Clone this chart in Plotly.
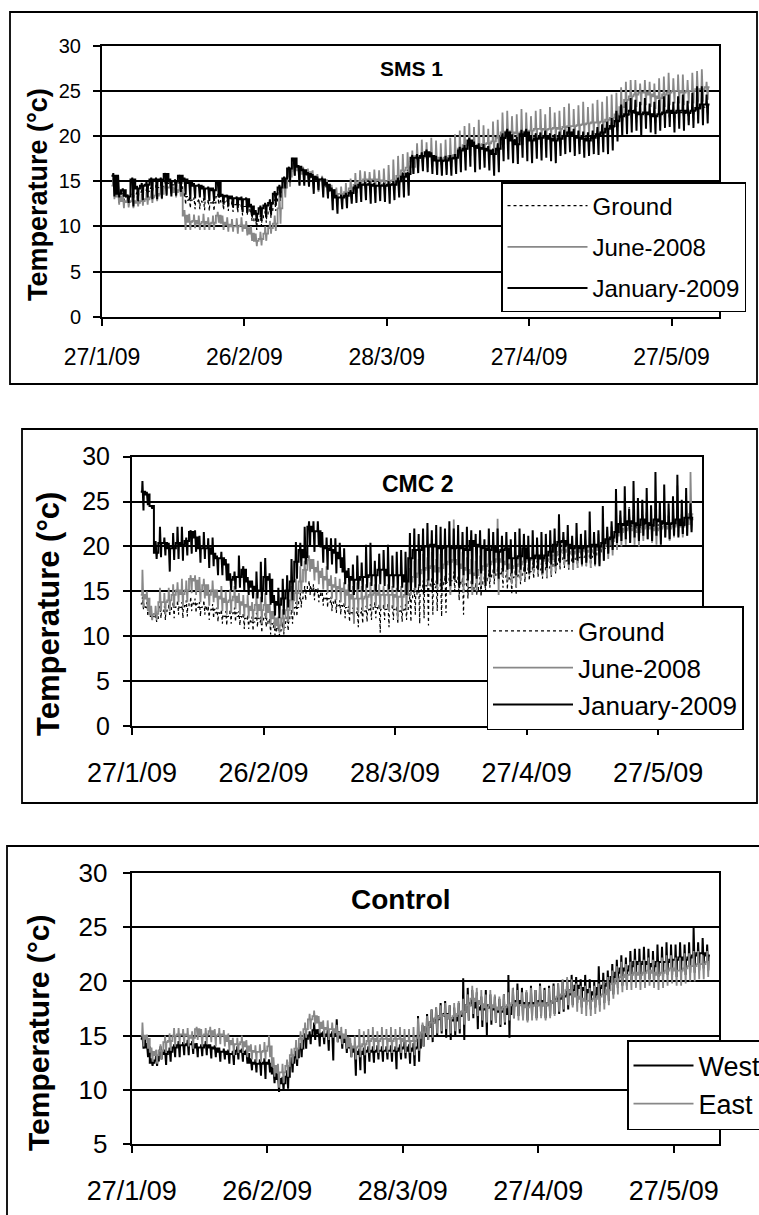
import pandas as pd
import plotly.graph_objects as go

START = "2009-01-29"
X_START = "2009-01-27"
X_END = "2009-06-06"
TICK_DATES = ["2009-01-27", "2009-02-26", "2009-03-28", "2009-04-27", "2009-05-27"]
TICK_TEXT = ["27/1/09", "26/2/09", "28/3/09", "27/4/09", "27/5/09"]
Y_TITLE = "Temperature (°c)"

# ---------------- SMS 1 ----------------
sms_jan_lvl = [15.6,13.6,14.0,13.3,15.2,14.2,14.5,14.6,15.2,15.2,
 15.2,15.8,15.0,15.0,15.6,15.2,14.8,14.5,14.5,14.2,
 14.2,14.0,14.8,13.4,13.3,13.1,13.1,13.0,13.0,12.2,
 11.4,12.0,12.3,12.6,13.6,14.3,15.3,16.4,17.5,16.6,
 16.2,15.8,15.5,15.2,15.2,14.6,14.0,13.2,13.2,13.4,
 13.7,14.3,14.6,14.6,14.6,14.5,14.5,14.5,14.6,14.6,
 15.0,15.5,15.8,17.6,17.6,17.8,18.2,17.8,17.3,17.3,
 17.3,17.5,17.6,18.4,18.6,19.5,18.9,18.7,18.6,18.4,
 18.0,18.6,19.8,20.4,19.5,19.1,20.2,20.4,19.5,19.7,
 19.8,20.0,19.7,19.5,19.7,20.0,20.4,20.0,19.8,19.7,
 19.5,19.8,20.2,20.4,20.8,21.1,21.7,22.2,22.4,22.8,
 22.6,22.4,22.6,22.4,22.2,22.4,22.6,22.8,22.6,22.8,
 22.8,22.6,22.8,23.1,23.5,23.5]
sms_jan_hi = [15.9,15.7,14.2,13.5,15.4,14.5,14.8,15.0,15.4,15.4,
 15.4,15.9,15.3,15.2,15.7,15.4,15.0,14.8,14.7,14.5,
 14.4,14.3,15.0,13.6,13.5,13.4,13.3,13.3,13.2,12.5,
 11.8,12.3,12.6,13.0,13.9,14.6,15.5,16.6,17.6,16.8,
 16.4,16.0,15.8,15.5,15.4,14.9,14.3,13.5,13.5,13.7,
 14.0,14.6,14.9,14.9,15.0,14.8,14.9,14.8,15.0,15.0,
 15.4,15.9,16.0,17.9,18.0,18.2,18.5,18.2,17.8,17.7,
 17.8,17.9,18.0,18.8,19.0,19.8,19.4,19.2,19.1,18.9,
 18.6,19.2,20.3,20.8,20.2,19.9,20.7,20.8,20.1,20.3,
 20.4,20.6,20.3,20.2,20.5,20.7,21.0,20.8,20.6,20.5,
 20.4,20.6,21.0,21.3,21.6,22.0,22.8,23.5,23.8,24.2,
 24.0,23.8,24.2,23.6,23.8,24.0,24.4,24.6,23.8,24.4,
 24.6,23.9,24.8,25.5,25.5,24.6]
sms_jan_lo = [13.3,13.2,13.3,12.6,12.2,12.8,12.9,13.2,13.0,13.0,
 13.1,13.4,13.3,13.4,13.8,13.5,13.0,13.1,13.2,12.9,
 12.8,12.8,13.2,12.4,12.2,12.1,12.0,11.6,11.5,11.1,
 10.5,10.6,11.0,11.3,12.4,13.2,14.2,14.9,15.6,14.5,
 14.5,14.4,13.6,14.0,13.2,13.1,11.8,11.4,11.9,12.0,
 12.5,12.6,12.7,12.9,12.5,12.6,12.8,12.7,12.5,12.9,
 13.2,13.2,13.4,15.8,15.9,16.1,16.0,15.8,15.7,15.6,
 15.7,15.6,15.8,16.0,16.2,16.6,16.0,16.3,16.5,16.2,
 15.6,16.0,17.2,17.4,17.0,16.9,17.6,17.2,17.0,17.5,
 17.3,17.6,17.2,17.0,17.8,18.0,18.2,17.8,18.0,17.6,
 17.8,18.0,17.9,18.2,18.0,18.4,19.4,19.9,20.2,20.4,
 20.6,20.0,20.8,20.4,20.2,20.6,20.9,21.0,20.4,20.8,
 20.6,21.2,20.9,21.4,21.2,21.4]

sms_jun_lvl = [14.5,13.3,12.8,12.7,12.8,12.6,12.8,13.0,13.2,13.4,
 13.6,14.3,14.3,13.8,14.0,11.2,10.5,10.6,10.3,10.5,
 10.3,10.4,11.2,10.4,10.2,10.0,10.0,10.1,9.8,9.2,
 8.4,8.6,9.2,9.8,10.3,12.0,14.3,15.5,16.6,16.2,
 15.8,16.0,15.5,15.2,15.0,14.5,14.0,13.6,13.6,13.8,
 14.2,14.6,15.0,15.2,15.2,15.2,15.1,15.0,15.0,15.1,
 15.6,16.2,16.5,16.6,17.8,17.6,17.7,17.8,17.6,17.5,
 17.6,17.8,17.9,18.6,19.0,19.0,18.9,19.0,19.1,19.2,
 19.4,19.8,20.4,20.5,20.4,20.3,20.4,20.5,20.6,20.8,
 20.8,20.7,20.8,20.9,20.8,21.0,21.1,21.1,21.2,21.3,
 21.4,21.5,21.5,21.6,21.8,22.0,22.4,23.2,24.0,24.4,
 24.6,24.8,24.8,24.6,24.4,24.2,24.6,24.8,25.0,25.0,
 24.8,25.0,25.0,25.2,25.2,25.4]
sms_jun_hi = [15.7,14.0,13.6,13.5,13.6,13.4,13.6,13.8,14.0,14.2,
 14.4,14.8,14.8,14.3,14.6,11.8,11.4,11.3,11.2,11.4,
 11.0,11.2,11.6,11.2,11.0,10.8,10.9,11.0,10.6,10.0,
 9.2,9.4,10.0,10.6,11.2,13.8,14.9,16.2,17.0,16.8,
 16.6,16.4,16.2,15.8,15.6,15.2,14.6,14.3,14.4,14.8,
 15.3,15.9,16.2,16.1,16.0,16.3,16.2,16.4,16.8,17.4,
 17.8,18.0,18.2,18.4,19.2,19.6,19.3,19.8,19.5,19.2,
 19.6,19.8,20.2,20.6,21.1,21.4,21.0,21.8,21.2,20.8,
 21.6,21.8,22.6,22.8,22.2,22.4,23.0,22.6,22.2,22.8,
 23.0,22.4,23.2,22.6,22.8,23.2,23.6,23.0,23.4,23.8,
 23.2,23.6,24.0,23.8,24.4,24.6,24.8,25.4,26.0,26.2,
 26.2,25.8,26.2,26.0,25.8,26.4,26.6,27.0,26.4,26.8,
 26.8,26.2,27.0,27.2,27.4,26.0]
sms_jun_lo = [13.0,12.4,12.0,12.1,12.0,12.2,12.3,12.4,12.6,12.8,
 13.0,13.6,13.6,13.2,13.3,9.6,9.6,9.8,9.6,9.6,
 9.6,9.6,10.4,9.6,9.4,9.4,9.2,9.4,9.0,8.4,
 7.8,7.9,8.4,9.2,9.5,10.3,13.2,14.4,15.6,14.6,
 14.8,14.6,14.2,13.8,13.6,13.2,12.8,12.6,12.9,13.1,
 13.4,13.7,14.2,14.4,14.3,14.4,14.2,14.1,14.2,14.3,
 14.6,15.0,15.5,15.8,16.6,16.4,16.5,16.6,16.4,16.2,
 16.4,16.6,16.8,17.4,17.8,17.8,17.6,17.8,17.9,17.9,
 18.1,18.4,19.0,19.1,19.0,18.9,19.0,19.2,19.3,19.5,
 19.5,19.4,19.5,19.6,19.5,19.7,19.8,19.8,19.9,20.0,
 20.1,20.2,20.2,20.3,20.5,20.7,21.0,21.8,22.6,23.0,
 23.2,23.4,23.4,23.2,23.0,22.8,23.2,23.4,23.6,23.6,
 23.4,23.6,23.6,23.8,23.8,24.0]

sms_gnd_lvl = [15.0,13.5,13.4,13.2,13.5,13.6,13.8,13.9,14.2,14.3,
 14.4,14.8,14.6,14.6,14.8,13.3,12.9,12.8,12.8,12.7,
 12.6,12.6,13.3,12.7,12.6,12.5,12.4,12.2,12.2,11.5,
 10.5,10.9,11.3,11.8,12.6,13.8,14.8,15.8,17.0,16.3,
 16.0,15.7,15.4,15.1,15.0,14.4,13.9,13.3,13.3,13.5,
 13.8,14.3,14.6,14.7,14.7,14.6,14.6,14.5,14.6,14.7,
 15.1,15.6,15.9,17.2,17.5,17.6,17.9,17.7,17.3,17.2,
 17.3,17.5,17.6,18.3,18.6,19.2,18.8,18.7,18.6,18.4,
 18.2,18.7,19.6,20.1,19.6,19.3,20.0,20.2,19.6,19.8,
 19.9,20.0,19.8,19.7,19.8,20.1,20.4,20.1,19.9,19.8,
 19.7,19.9,20.2,20.4,20.7,21.0,21.6,22.0,22.3,22.6,
 22.5,22.4,22.5,22.4,22.3,22.4,22.5,22.6,22.5,22.6,
 22.6,22.5,22.7,22.9,23.2,23.3]
sms_gnd_hi = [15.4,14.0,13.8,13.5,13.9,14.0,14.2,14.3,14.6,14.7,
 14.8,15.1,15.0,14.9,15.1,13.8,13.3,13.2,13.1,13.1,
 13.0,12.9,13.6,13.0,12.9,12.8,12.8,12.5,12.5,11.9,
 10.9,11.3,11.7,12.2,13.0,14.2,15.2,16.2,17.3,16.7,
 16.4,16.1,15.8,15.5,15.4,14.8,14.3,13.7,13.7,13.9,
 14.2,14.7,15.0,15.1,15.1,15.0,15.0,14.9,15.0,15.2,
 15.5,16.0,16.3,17.6,17.9,18.0,18.3,18.1,17.7,17.6,
 17.7,17.9,18.0,18.8,19.1,19.7,19.3,19.2,19.1,18.9,
 18.7,19.2,20.1,20.6,20.1,19.8,20.5,20.7,20.1,20.3,
 20.4,20.5,20.3,20.2,20.3,20.6,20.9,20.6,20.4,20.3,
 20.2,20.4,20.7,20.9,21.2,21.5,22.1,22.5,22.8,23.1,
 23.0,22.9,23.0,22.9,22.8,22.9,23.0,23.1,23.0,23.1,
 23.1,23.0,23.2,23.4,23.7,23.8]
sms_gnd_lo = [14.0,12.6,12.5,12.3,12.5,12.6,12.8,12.9,13.2,13.3,
 13.4,13.8,13.6,13.6,13.8,12.4,12.0,11.9,11.9,11.8,
 11.7,11.7,12.4,11.8,11.7,11.6,11.5,11.2,11.2,10.6,
 9.6,10.0,10.4,10.9,11.7,12.8,13.8,14.8,16.0,15.3,
 15.0,14.7,14.4,14.1,14.0,13.4,12.9,12.3,12.3,12.5,
 12.8,13.3,13.6,13.7,13.7,13.6,13.6,13.5,13.6,13.7,
 14.1,14.6,14.9,16.2,16.5,16.6,16.9,16.7,16.3,16.2,
 16.3,16.5,16.6,17.3,17.6,18.2,17.8,17.7,17.6,17.4,
 17.2,17.7,18.6,19.1,18.6,18.3,19.0,19.2,18.6,18.8,
 18.9,19.0,18.8,18.7,18.8,19.1,19.4,19.1,18.9,18.8,
 18.7,18.9,19.2,19.4,19.7,20.0,20.6,21.0,21.3,21.6,
 21.5,21.4,21.5,21.4,21.3,21.4,21.5,21.6,21.5,21.6,
 21.6,21.5,21.7,21.9,22.2,22.3]

# ---------------- CMC 2 ----------------
cmc_jan_lvl = [26.1,25.8,24.5,19.3,20.4,20.4,19.8,19.8,20.4,20.2,
 20.6,21.6,21.0,19.8,19.8,19.8,19.2,18.7,18.7,18.0,
 16.3,16.6,16.6,17.4,16.1,15.5,15.1,15.1,16.6,16.3,
 13.8,13.5,14.2,15.1,16.1,18.3,19.6,18.8,22.2,21.7,
 21.7,20.0,19.8,19.6,19.3,18.7,17.2,16.6,16.3,16.3,
 16.6,16.6,16.8,16.8,17.4,17.4,16.8,16.8,16.8,16.8,
 16.1,18.7,19.6,19.6,20.0,20.0,20.2,20.0,19.8,20.0,
 20.0,19.8,20.0,19.8,19.6,20.6,20.2,20.0,19.8,19.6,
 20.0,19.4,19.6,19.8,18.7,18.7,18.9,19.8,18.7,18.7,
 19.0,18.7,19.0,19.4,20.2,20.5,20.6,20.2,19.8,20.0,
 19.8,20.0,20.0,20.2,20.0,20.4,20.8,21.0,21.6,22.5,
 22.4,22.8,22.6,22.4,23.0,22.6,22.4,23.0,22.8,22.6,
 22.5,22.6,23.0,22.4,23.2,23.2]
cmc_jan_hi = [27.3,26.1,24.6,20.6,22.2,21.0,20.4,21.5,22.2,22.2,
 21.0,21.8,21.8,21.2,21.6,20.9,21.0,19.0,19.4,18.6,
 17.0,17.2,19.0,17.8,16.6,16.2,17.2,18.3,18.7,17.0,
 14.6,15.4,16.4,16.8,18.6,20.5,20.4,22.2,22.8,22.8,
 22.8,21.6,21.0,20.9,20.9,20.4,19.8,17.6,18.0,19.0,
 18.2,20.2,20.4,18.4,19.2,19.6,20.2,19.0,19.4,19.6,
 19.4,21.5,22.0,21.4,22.0,22.6,21.8,22.4,22.2,22.0,
 22.8,22.0,22.4,21.6,22.2,21.8,21.4,21.8,20.8,22.0,
 21.6,22.0,21.2,21.6,20.8,21.6,22.0,21.4,21.2,21.8,
 21.0,21.6,21.4,21.8,22.0,23.6,21.6,22.4,21.2,22.6,
 21.4,21.8,23.9,21.6,21.8,24.5,22.2,22.8,26.4,24.0,
 26.7,24.2,27.3,25.4,25.2,26.5,24.6,28.3,25.0,26.9,
 24.8,25.6,28.0,25.2,26.5,24.8]
cmc_jan_lo = [24.0,24.6,24.2,18.6,18.8,19.0,17.2,18.5,18.6,18.4,
 19.0,19.2,19.4,18.2,18.6,17.6,17.8,16.8,16.8,16.2,
 15.1,15.2,15.4,15.0,14.6,14.2,14.2,13.8,14.6,13.5,
 12.3,12.0,12.4,13.2,14.0,16.4,17.8,18.0,20.0,19.4,
 20.0,18.2,17.4,18.0,17.0,17.6,15.8,15.0,14.6,15.2,
 15.0,15.4,15.6,15.0,15.8,15.6,15.2,15.4,15.0,15.4,
 14.6,15.0,15.4,15.6,14.8,16.2,15.0,15.8,15.2,16.0,
 15.6,16.4,15.4,16.8,16.2,15.8,16.4,17.0,15.6,16.6,
 17.0,16.4,17.2,17.4,17.0,16.8,17.4,17.2,17.0,17.6,
 17.4,17.0,17.6,18.0,17.8,18.2,18.6,18.0,18.2,18.4,
 18.0,18.2,18.6,18.0,17.8,18.4,19.2,19.6,20.4,20.6,
 20.8,20.4,21.0,20.6,21.2,20.8,20.6,21.2,20.2,21.0,
 20.8,21.2,21.0,21.4,21.2,21.6]

cmc_jun_lvl = [14.6,14.2,12.4,12.5,13.8,13.8,14.0,14.6,15.1,14.7,
 15.1,16.4,16.2,15.1,15.7,14.6,15.1,14.4,14.2,13.8,
 14.0,14.4,13.8,13.5,13.3,12.9,13.5,12.9,13.5,12.7,
 12.0,11.2,12.0,12.9,14.0,14.8,16.1,17.4,18.5,17.6,
 17.2,16.6,16.3,15.7,15.5,15.3,15.1,14.6,14.2,14.2,
 14.2,14.4,14.6,14.8,14.6,14.6,14.6,14.6,14.4,14.4,
 14.6,16.1,16.6,17.0,17.4,17.6,17.8,17.2,17.6,18.0,
 18.3,18.5,18.0,17.6,17.4,17.0,16.8,17.4,17.8,18.0,
 18.3,18.6,18.3,18.0,17.6,17.8,18.0,18.3,18.5,18.7,
 18.8,18.6,18.4,18.6,19.0,19.4,19.6,19.4,19.2,19.4,
 19.6,19.5,19.4,19.6,19.8,20.0,20.2,20.6,21.2,21.6,
 21.8,22.0,21.8,21.6,22.0,22.2,22.0,21.8,22.0,22.2,
 22.0,22.2,22.4,22.2,22.5,23.6]
cmc_jun_hi = [17.4,15.0,13.4,13.4,15.4,14.8,15.4,15.8,16.0,16.4,
 16.2,16.8,16.8,16.6,16.4,15.8,16.2,15.2,15.6,15.0,
 15.2,15.6,14.8,14.6,14.6,13.8,14.8,14.4,14.8,13.6,
 12.8,12.2,13.0,14.4,15.6,16.4,17.8,18.4,19.0,18.6,
 18.4,17.6,17.8,16.8,16.6,16.4,16.0,15.8,15.6,16.0,
 15.6,15.8,16.0,15.8,15.8,15.6,15.8,15.6,15.4,15.6,
 15.8,17.6,18.4,18.6,19.2,18.8,19.4,18.6,19.2,19.6,
 20.2,23.0,19.6,19.4,18.8,18.6,18.4,19.0,19.6,19.8,
 20.4,23.1,20.0,19.8,19.2,19.4,19.6,20.0,20.2,20.4,
 20.2,20.0,20.4,20.2,20.6,20.8,21.0,21.2,20.8,21.0,
 21.2,20.8,21.0,21.2,21.4,21.6,21.8,22.2,22.8,23.2,
 23.4,23.6,23.2,23.0,23.6,23.8,23.4,23.2,23.6,23.8,
 23.4,23.8,26.8,23.6,24.0,28.3]
cmc_jun_lo = [13.2,12.8,11.8,11.8,12.8,12.4,12.8,13.2,13.8,13.2,
 13.8,14.8,14.6,13.8,14.2,13.4,13.8,13.0,12.8,12.4,
 12.6,13.0,12.4,12.2,12.0,11.6,12.0,11.4,12.0,11.2,
 10.8,10.4,10.6,11.6,12.6,13.4,14.8,16.0,17.2,16.2,
 15.8,15.2,14.8,14.2,14.0,13.8,13.4,12.6,11.4,12.6,
 12.8,13.0,13.2,13.4,13.0,13.2,12.8,13.2,11.8,12.8,
 13.2,14.6,15.0,15.4,15.8,15.6,16.0,15.2,15.6,16.0,
 14.6,16.6,16.0,14.8,15.6,14.6,15.0,15.6,16.0,16.2,
 16.4,14.6,16.6,16.2,15.8,15.4,16.2,16.6,16.8,17.0,
 17.0,16.8,16.6,16.8,17.2,17.8,18.0,17.6,17.4,17.6,
 17.8,17.8,17.6,17.8,18.0,18.4,18.6,19.0,19.6,20.0,
 20.2,20.4,20.2,20.0,20.6,20.8,20.4,20.2,20.6,21.0,
 20.6,21.0,21.2,21.0,21.2,22.0]

cmc_gnd_lvl = [13.6,13.2,12.2,12.0,12.8,12.8,13.0,13.2,13.4,13.2,
 13.4,13.8,13.6,13.2,13.4,12.8,13.0,12.6,12.4,12.2,
 12.4,12.6,12.2,12.0,11.8,11.6,12.0,11.6,12.0,11.4,
 11.0,10.6,11.0,11.6,12.4,13.2,14.2,15.0,15.6,15.2,
 14.8,14.4,14.2,13.8,13.6,13.4,13.2,12.8,12.6,12.6,
 12.6,12.8,13.0,13.2,13.0,13.0,13.0,13.0,12.8,12.8,
 13.0,14.0,14.6,15.0,15.4,15.6,15.8,15.4,15.6,16.0,
 16.2,16.4,16.0,15.8,15.6,15.4,15.2,15.8,16.2,16.6,
 16.8,17.0,16.8,16.6,16.4,16.6,16.8,17.0,17.2,17.4,
 17.6,17.4,17.4,17.6,18.0,18.4,18.6,18.4,18.4,18.6,
 18.8,18.8,18.8,19.0,19.4,19.8,20.2,20.8,21.4,21.8,
 22.0,22.4,22.2,22.0,22.4,22.6,22.4,22.2,22.4,22.6,
 22.4,22.6,22.8,22.6,22.8,23.0]
cmc_gnd_hi = [14.4,13.8,12.8,12.6,13.4,13.4,13.6,13.8,14.0,13.8,
 14.0,14.4,14.2,13.8,14.0,13.4,13.6,13.2,13.0,12.8,
 13.0,13.2,12.8,12.6,12.4,12.2,12.6,12.2,12.6,12.0,
 11.6,11.2,11.6,12.2,13.0,13.8,14.8,15.6,16.2,15.8,
 15.4,15.0,14.8,14.4,14.2,14.0,13.8,13.4,13.2,13.2,
 13.2,13.4,13.6,13.8,13.6,13.6,13.6,13.6,13.4,13.4,
 13.6,14.8,15.4,15.8,16.2,16.4,16.6,16.2,16.4,16.8,
 17.0,17.2,16.8,16.6,16.4,16.2,16.0,16.6,17.0,17.4,
 17.6,17.8,17.6,17.4,17.2,17.4,17.6,17.8,18.0,18.2,
 18.4,18.2,18.2,18.4,18.8,19.2,19.4,19.2,19.2,19.4,
 19.6,19.6,19.6,19.8,20.2,20.6,21.4,22.4,23.2,23.6,
 24.0,24.4,23.8,24.2,24.6,24.8,24.2,24.4,25.0,24.6,
 24.2,25.2,24.8,25.0,24.6,24.8]
cmc_gnd_lo = [13.0,12.2,11.8,11.6,12.0,11.8,12.2,12.0,12.4,12.0,
 12.2,12.8,12.6,12.2,12.4,11.8,12.0,11.6,11.4,11.2,
 11.4,11.6,11.2,10.8,10.8,10.6,11.0,10.4,11.0,10.2,
 10.1,10.1,10.2,10.6,11.4,12.2,13.2,14.0,14.6,14.0,
 13.8,13.4,13.2,12.8,12.6,12.4,12.0,11.6,11.4,11.0,
 11.4,11.6,11.8,12.0,10.4,11.8,11.0,11.8,11.4,11.6,
 11.8,11.6,12.4,11.4,12.0,11.2,12.4,12.8,12.2,12.6,
 14.6,15.0,14.0,12.4,14.2,15.0,14.6,14.4,15.0,15.4,
 15.8,16.0,15.4,15.2,14.8,14.6,15.8,16.0,16.2,16.4,
 16.6,16.4,16.4,16.6,17.0,17.4,17.6,17.4,17.4,17.6,
 17.8,17.8,17.6,17.8,18.2,18.8,19.2,19.6,20.2,20.6,
 20.8,21.2,21.0,20.8,21.2,21.4,21.2,21.0,21.2,21.4,
 21.2,21.4,21.6,21.4,21.6,21.8]

# ---------------- Control ----------------
ctl_west_lvl = [14.7,13.9,12.5,12.7,13.6,13.3,13.5,13.9,14.1,14.1,
 14.2,14.2,13.9,13.9,14.1,13.9,13.8,13.5,13.5,13.3,
 13.3,13.6,13.5,13.3,12.5,12.4,12.4,12.5,12.4,11.5,
 11.0,10.6,11.2,12.5,13.0,13.8,14.7,15.0,15.5,15.2,
 15.0,15.1,15.0,15.3,14.8,14.4,13.9,13.5,13.3,13.5,
 13.6,13.5,13.6,13.6,13.6,13.6,13.6,13.8,13.9,13.6,
 13.8,13.9,15.0,15.8,16.2,16.5,16.8,17.0,16.6,16.4,
 16.8,17.2,17.8,18.0,17.6,17.4,17.8,17.6,17.4,17.2,
 17.6,17.0,17.8,18.2,18.0,17.8,18.0,17.8,18.2,17.8,
 18.0,18.2,18.4,18.6,18.8,19.2,19.6,19.4,19.2,19.0,
 18.8,19.4,19.6,19.8,20.4,20.8,21.2,21.0,21.4,21.8,
 21.6,21.8,21.6,21.4,21.8,21.8,21.8,22.0,22.0,22.2,
 22.0,22.2,22.4,22.6,22.6,22.4]
ctl_west_hi = [15.0,14.3,12.9,13.2,14.0,13.7,13.9,14.2,14.5,14.4,
 14.6,14.5,14.3,14.2,14.5,14.2,14.1,13.9,13.8,13.7,
 13.6,14.0,13.8,13.7,12.9,12.8,12.8,12.9,12.8,12.0,
 11.5,11.2,11.8,13.0,13.6,14.3,15.2,15.4,16.2,15.6,
 15.4,15.5,15.4,16.5,15.2,14.8,14.3,14.0,13.8,13.9,
 14.0,14.0,14.1,14.0,14.0,14.1,14.0,14.2,14.4,14.2,
 14.3,16.8,16.0,17.0,17.4,17.6,18.0,18.2,17.8,17.6,
 18.0,20.3,19.4,19.2,19.0,18.6,19.2,18.8,18.6,18.4,
 18.8,20.6,19.4,19.8,19.4,19.0,19.6,19.2,19.8,19.4,
 19.6,19.8,19.8,20.0,20.2,20.6,20.4,20.2,20.6,20.2,
 20.0,21.4,20.8,21.0,21.6,22.0,22.4,22.2,22.8,23.0,
 23.0,23.2,23.0,22.8,23.4,23.2,23.6,23.4,23.4,23.6,
 23.4,23.6,25.0,23.6,24.0,23.4]
ctl_west_lo = [13.8,13.0,12.2,12.2,12.8,12.3,12.6,13.0,13.0,13.2,
 13.2,13.3,13.0,13.1,13.2,12.9,13.0,12.6,12.8,12.4,
 12.3,12.8,12.6,12.4,11.8,11.6,11.3,11.0,11.6,10.6,
 9.8,10.0,10.1,11.6,12.2,13.0,13.8,14.2,14.6,14.0,
 14.2,13.6,12.7,14.4,13.8,13.4,13.0,11.3,11.8,11.5,
 12.6,12.5,12.8,12.6,12.8,12.6,11.9,12.8,12.9,12.4,
 12.2,12.6,14.0,14.6,14.4,15.0,15.2,14.8,14.6,15.0,
 15.2,14.6,16.4,16.6,15.6,15.8,15.0,16.0,16.2,15.8,
 16.0,14.8,16.6,16.8,16.6,16.4,16.8,16.6,16.8,16.6,
 16.8,17.0,17.0,17.2,17.4,17.8,18.0,17.6,17.8,17.4,
 17.6,17.8,18.0,18.2,18.8,19.4,19.6,19.6,20.0,20.2,
 20.2,20.4,20.2,20.0,20.4,20.4,20.6,20.6,20.4,20.8,
 20.6,20.8,20.8,21.0,21.2,21.0]

ctl_east_lvl = [15.0,14.7,13.5,13.2,13.6,14.4,14.5,15.0,15.1,15.1,
 15.0,14.8,15.6,15.0,15.1,15.4,15.0,15.1,15.0,14.5,
 14.2,14.2,14.4,14.0,13.6,13.5,13.5,13.6,14.0,12.2,
 11.6,11.6,12.2,13.2,13.8,14.7,15.6,16.5,16.8,16.2,
 15.7,15.6,15.6,15.3,15.1,14.8,14.0,13.9,14.0,14.2,
 14.5,14.7,14.5,14.7,14.7,14.5,14.7,14.7,14.5,14.5,
 14.5,14.8,15.3,15.8,16.2,16.6,16.8,16.9,16.6,16.8,
 17.0,17.2,17.8,18.4,18.2,17.9,17.6,17.8,17.6,17.4,
 17.6,17.8,18.0,17.8,17.8,17.6,17.8,17.8,18.0,17.8,
 18.0,18.2,18.6,18.8,19.2,19.0,18.6,18.4,18.2,18.2,
 18.4,18.6,18.8,19.2,19.8,20.2,20.4,20.6,20.6,20.8,
 20.6,20.8,21.0,20.8,20.6,20.8,21.0,21.2,21.0,21.0,
 21.2,21.4,21.4,21.6,21.6,21.8]
ctl_east_hi = [16.2,15.1,13.9,13.7,14.2,15.0,15.2,15.7,15.7,15.6,
 15.7,15.4,15.8,15.6,15.7,15.8,15.6,15.7,15.5,15.2,
 14.8,14.8,15.0,14.6,14.2,14.1,14.2,14.4,15.0,13.0,
 12.4,12.4,12.8,13.8,14.6,15.4,16.2,17.0,17.3,16.8,
 16.4,16.4,16.2,16.0,15.8,15.6,14.8,15.0,15.6,15.4,
 15.6,15.8,15.4,15.8,15.6,15.8,15.6,15.8,15.6,15.6,
 15.8,16.6,16.2,16.8,17.4,17.6,17.8,18.0,17.8,18.0,
 18.2,18.4,18.8,19.6,19.4,19.2,18.8,19.2,18.8,18.6,
 18.8,19.0,19.4,19.2,19.0,19.2,19.4,19.2,19.6,19.2,
 19.4,19.6,19.8,20.2,20.4,20.2,19.8,19.6,19.6,19.4,
 19.6,19.8,20.0,20.4,21.0,21.4,21.8,21.6,21.8,22.0,
 21.8,22.0,22.2,22.0,21.8,22.2,22.4,22.4,22.2,22.2,
 22.6,22.6,22.8,22.8,22.4,22.8]
ctl_east_lo = [14.0,13.8,12.6,12.4,12.8,13.4,13.6,14.0,14.2,14.2,
 14.0,13.8,14.6,14.0,14.2,14.4,14.0,14.2,14.0,13.6,
 13.2,13.4,13.4,13.0,12.8,12.6,12.6,12.8,13.0,11.2,
 10.2,10.6,11.2,12.4,12.8,13.8,14.8,15.6,16.0,15.2,
 14.8,14.6,14.8,14.4,14.2,13.8,13.0,12.8,13.0,13.2,
 13.4,13.6,13.4,13.6,13.4,13.4,13.6,13.4,13.4,13.4,
 13.2,13.6,14.0,14.6,14.8,15.2,15.4,15.6,15.2,15.4,
 15.6,16.0,16.4,17.0,16.8,16.4,16.2,16.4,16.2,16.0,
 16.2,16.4,16.6,16.4,16.4,16.2,16.4,16.4,16.6,16.4,
 16.6,16.8,17.2,17.4,17.8,17.6,17.2,17.0,16.8,16.8,
 17.0,17.2,17.4,17.8,18.4,18.8,19.0,19.2,19.2,19.4,
 19.2,19.4,19.6,19.4,19.2,19.4,19.6,19.8,19.6,19.6,
 19.8,20.0,20.0,20.2,20.2,20.4]

BLACK = "#000000"
GREY = "#888888"
FONT = "Liberation Sans, Arial, sans-serif"
W, H = 759, 1215


def daily_path(lvl, hi, lo):
    """Each logged day: resting level, then the daily excursion to max and min."""
    assert len(lvl) == len(hi) == len(lo)
    base = pd.Timestamp(START)
    xs, ys = [], []
    for i, (l, h, w) in enumerate(zip(lvl, hi, lo)):
        d = base + pd.Timedelta(days=i)
        for frac, v in ((0.0, l), (0.30, l), (0.38, h), (0.62, w), (0.70, l), (0.999, l)):
            xs.append(d + pd.Timedelta(hours=24 * frac))
            ys.append(v)
    return xs, ys


fig = go.Figure()


def add_series(name, lvl, hi, lo, color, width, dash, xa, ya, legend, group):
    xs, ys = daily_path(lvl, hi, lo)
    fig.add_trace(go.Scatter(
        x=xs, y=ys, mode="lines", name=name,
        line=dict(color=color, width=width, dash=dash),
        xaxis=xa, yaxis=ya, legend=legend, legendgroup=group,
        hoverinfo="skip"))


add_series("Ground", sms_gnd_lvl, sms_gnd_hi, sms_gnd_lo, BLACK, 1.2, "dot", "x", "y", "legend", "a1")
add_series("June-2008", sms_jun_lvl, sms_jun_hi, sms_jun_lo, GREY, 1.8, "solid", "x", "y", "legend", "b1")
add_series("January-2009", sms_jan_lvl, sms_jan_hi, sms_jan_lo, BLACK, 2.0, "solid", "x", "y", "legend", "c1")

add_series("Ground", cmc_gnd_lvl, cmc_gnd_hi, cmc_gnd_lo, BLACK, 1.2, "dot", "x2", "y2", "legend2", "a2")
add_series("June-2008", cmc_jun_lvl, cmc_jun_hi, cmc_jun_lo, GREY, 1.8, "solid", "x2", "y2", "legend2", "b2")
add_series("January-2009", cmc_jan_lvl, cmc_jan_hi, cmc_jan_lo, BLACK, 2.0, "solid", "x2", "y2", "legend2", "c2")

add_series("West", ctl_west_lvl, ctl_west_hi, ctl_west_lo, BLACK, 2.0, "solid", "x3", "y3", "legend3", "a3")
add_series("East", ctl_east_lvl, ctl_east_hi, ctl_east_lo, GREY, 1.8, "solid", "x3", "y3", "legend3", "b3")


def px_x(v):
    return v / W


def px_y(v):
    return 1 - v / H


def xaxis(left, right, tick_size, standoff):
    return dict(domain=[px_x(left), px_x(right)], type="date", range=[X_START, X_END],
                tickvals=TICK_DATES, ticktext=TICK_TEXT, ticks="outside", ticklen=7,
                tickwidth=2, tickcolor=BLACK, showline=True, linecolor=BLACK, linewidth=2,
                mirror=True, showgrid=False, zeroline=False, ticklabelstandoff=standoff,
                tickfont=dict(family=FONT, size=tick_size, color=BLACK))


def yaxis(top, bottom, rng, tick_size, standoff):
    return dict(domain=[px_y(bottom), px_y(top)], range=rng, tick0=0, dtick=5,
                ticks="outside", ticklen=7, tickwidth=2, tickcolor=BLACK,
                showline=True, linecolor=BLACK, linewidth=2, mirror=True,
                showgrid=True, gridcolor=BLACK, gridwidth=1.8, zeroline=False,
                ticklabelstandoff=standoff,
                tickfont=dict(family=FONT, size=tick_size, color=BLACK))


def legend_box(x, y, size, gap, itemwidth):
    return dict(x=px_x(x), y=px_y(y), xanchor="left", yanchor="top",
                bgcolor="white", bordercolor=BLACK, borderwidth=1.5,
                font=dict(family=FONT, size=size, color=BLACK),
                tracegroupgap=gap, itemwidth=itemwidth)


fig.update_layout(
    width=W, height=H, margin=dict(l=0, r=0, t=0, b=0, autoexpand=False),
    paper_bgcolor="white", plot_bgcolor="white", showlegend=True,
    xaxis=dict(anchor="y", **xaxis(102, 719, 23, 12)),
    yaxis=dict(anchor="x", **yaxis(45.7, 316.7, [0, 30], 20, 8)),
    xaxis2=dict(anchor="y2", **xaxis(132, 702, 27, 15)),
    yaxis2=dict(anchor="x2", **yaxis(456.7, 726, [0, 30], 25, 8)),
    xaxis3=dict(anchor="y3", **xaxis(131.7, 719, 27, 15)),
    yaxis3=dict(anchor="x3", **yaxis(873, 1144, [5, 30], 26, 10)),
    legend=legend_box(501, 182, 24, 7, 80),
    legend2=legend_box(486.5, 606, 26, 0, 80),
    legend3=legend_box(627, 1040, 27, 0, 60),
)

# chart-area frames
for (x0, y0, x1, y1) in [(10, 12, 757, 384), (22, 429, 757, 803), (7, 846, 800, 1240)]:
    fig.add_shape(type="rect", xref="paper", yref="paper",
                  x0=px_x(x0), x1=px_x(x1), y0=px_y(y1), y1=px_y(y0),
                  line=dict(color=BLACK, width=1.8), fillcolor="rgba(0,0,0,0)", layer="below")

# panel titles
for text, cx, cy, size in [("SMS 1", 411, 68, 21), ("CMC 2", 418, 484, 23), ("Control", 401, 899, 28)]:
    fig.add_annotation(text=f"<b>{text}</b>", xref="paper", yref="paper",
                       x=px_x(cx), y=px_y(cy), xanchor="center", yanchor="middle",
                       showarrow=False, font=dict(family=FONT, size=size, color=BLACK))

# y-axis titles
for cx, cy, size in [(38, 195, 27), (48, 614, 31), (38, 1033, 30)]:
    fig.add_annotation(text=f"<b>{Y_TITLE}</b>", xref="paper", yref="paper", textangle=-90,
                       x=px_x(cx), y=px_y(cy), xanchor="center", yanchor="middle",
                       showarrow=False, font=dict(family=FONT, size=size, color=BLACK))

fig.write_html("out.html")
